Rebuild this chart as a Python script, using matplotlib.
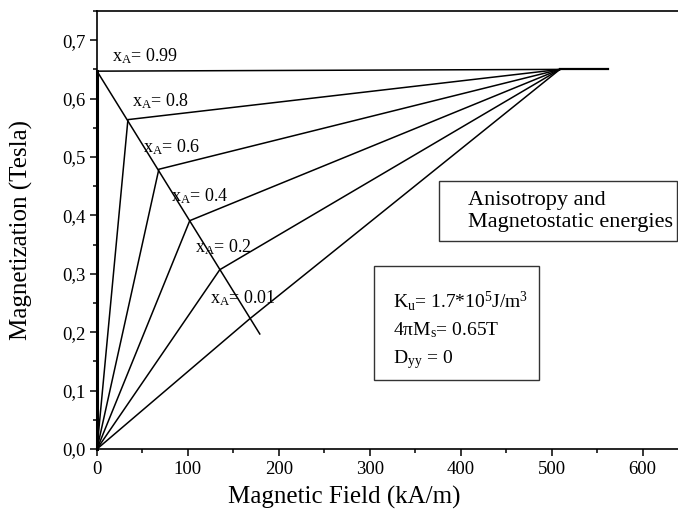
import matplotlib
matplotlib.use("Agg")
import matplotlib.pyplot as plt
from matplotlib.ticker import MultipleLocator, FuncFormatter
from matplotlib.patches import Rectangle

plt.rcParams['font.family'] = ['Liberation Serif', 'DejaVu Serif']
plt.rcParams['mathtext.fontset'] = 'custom'
plt.rcParams['mathtext.rm'] = 'Liberation Serif'
plt.rcParams['mathtext.it'] = 'Liberation Serif:italic'

# ---- data ----
xA_labels = ['0.99', '0.8', '0.6', '0.4', '0.2', '0.01']
corner_H = [0, 34, 68, 102, 135, 168]          # kA/m
corner_M = [0.647, 0.564, 0.479, 0.391, 0.307, 0.223]  # Tesla
H_sat = 509
M_sat = 0.65
H_end = 562
diag_end_H = 179
diag_end_M = 0.197
x_ticks = [0, 100, 200, 300, 400, 500, 600]
y_ticks = [0.0, 0.1, 0.2, 0.3, 0.4, 0.5, 0.6, 0.7]

# label anchor positions (layout)
label_pos = [(16.5, 0.664), (38.5, 0.587), (50.5, 0.508),
             (81, 0.424), (108, 0.336), (124, 0.249)]

W, H = 678, 515
fig = plt.figure(figsize=(W / 100, H / 100), dpi=100)
ax = fig.add_axes([97 / W, 1 - 449 / H, (679 - 97) / W, (449 - 11) / H])

lw = 1.1
for h, m in zip(corner_H, corner_M):
    ax.plot([0, h, H_sat], [0, m, M_sat], color='black', lw=lw,
            solid_joinstyle='miter', clip_on=False)
ax.plot([H_sat, H_end], [M_sat, M_sat], color='black', lw=1.6)
# line through the corners
ax.plot([corner_H[0], diag_end_H], [corner_M[0], diag_end_M], color='black', lw=lw)
# thick vertical segment for x_A = 0.99
ax.plot([0, 0], [0, corner_M[0]], color='black', lw=2.2, clip_on=False)

for lab, (px, py) in zip(xA_labels, label_pos):
    ax.text(px, py, r'x$_{\mathrm{A}}$= ' + lab, fontsize=13, ha='left',
            va='baseline')

ax.set_xlim(0, 640)
ax.set_ylim(0, 0.75)
ax.set_xticks(x_ticks)
ax.set_yticks(y_ticks)
ax.xaxis.set_minor_locator(MultipleLocator(50))
ax.yaxis.set_minor_locator(MultipleLocator(0.05))
ax.yaxis.set_major_formatter(FuncFormatter(lambda v, p: f'{v:.1f}'.replace('.', ',')))
ax.tick_params(which='major', direction='out', length=5, width=1.1, labelsize=13.5)
ax.tick_params(which='minor', direction='out', length=3, width=1.1)
ax.spines['right'].set_visible(False)
for s in ['left', 'bottom', 'top']:
    ax.spines[s].set_linewidth(1.2)

ax.set_xlabel('Magnetic Field (kA/m)', fontsize=18)
ax.set_ylabel('Magnetization (Tesla)', fontsize=18)
ax.xaxis.label.set_va('center')
ax.xaxis.set_label_coords((344 - 97) / 582, (449 - 497) / 438)
ax.yaxis.label.set_va('center')
ax.yaxis.set_label_coords((21 - 97) / 582, 0.5)

def px2fig(x, y):
    return x / W, 1 - y / H

# Anisotropy box
x0, y0 = px2fig(439, 241)
x1, y1 = px2fig(677, 181)
fig.patches.append(Rectangle((x0, y0), x1 - x0, y1 - y0, transform=fig.transFigure,
                             fill=False, edgecolor='#333333', lw=1.0))
fig.text(*px2fig(468, 205), 'Anisotropy and', fontsize=16, va='baseline')
fig.text(*px2fig(468, 227), 'Magnetostatic energies', fontsize=16, va='baseline')

# parameter box
x0, y0 = px2fig(374, 380)
x1, y1 = px2fig(539, 266)
fig.patches.append(Rectangle((x0, y0), x1 - x0, y1 - y0, transform=fig.transFigure,
                             fill=False, edgecolor='#333333', lw=1.0))
fig.text(*px2fig(393, 307), r'K$_{\mathrm{u}}$= 1.7*10$^{\mathrm{5}}$J/m$^{\mathrm{3}}$',
         fontsize=14, va='baseline')
fig.text(*px2fig(393, 335), r'4πM$_{\mathrm{s}}$= 0.65T', fontsize=14, va='baseline')
fig.text(*px2fig(393, 363), r'D$_{\mathrm{yy}}$ = 0', fontsize=14, va='baseline')

fig.savefig('out.png', dpi=100)
